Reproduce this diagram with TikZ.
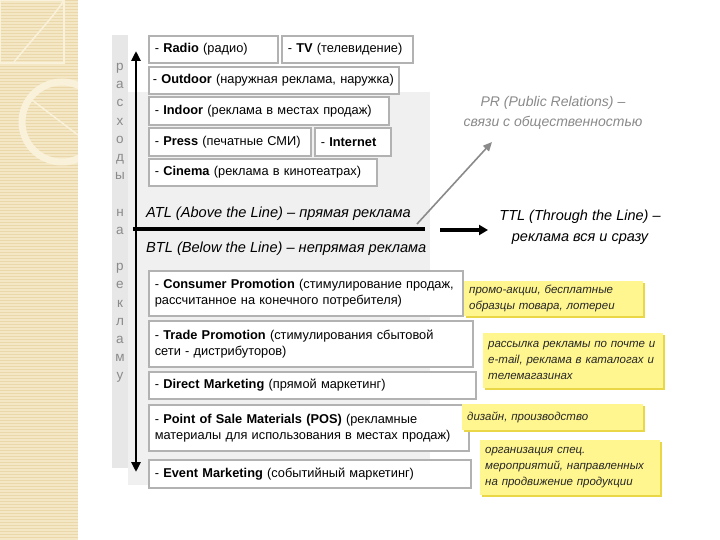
\documentclass[tikz,border=0pt]{standalone}
\usepackage{fontspec}
\setmainfont{Liberation Sans}
\usetikzlibrary{arrows.meta}
\definecolor{stripbg}{HTML}{F4E7C6}
\definecolor{stripln}{HTML}{EAD8AA}
\definecolor{decor}{HTML}{FAF1DA}
\definecolor{panel}{HTML}{F0F0F0}
\definecolor{colstrip}{HTML}{E7E7E7}
\definecolor{boxline}{HTML}{B2B2B2}
\definecolor{yel}{HTML}{FFF68F}
\definecolor{yelshadow}{HTML}{E9D748}
\definecolor{prgray}{HTML}{8A8A8A}
\tikzset{
  wbox/.style={draw=boxline, line width=1.6pt, fill=white, anchor=north west,
    inner xsep=6pt, inner ysep=0pt, align=left,
    font=\fontsize{12.8}{16}\selectfont},
  ybox/.style={fill=yel, anchor=north west, inner xsep=5pt, inner ysep=0pt,
    align=left, text=black!85, font=\fontsize{11.5}{16}\selectfont\itshape},
  thickarrow/.style={line width=3pt, -{Triangle[length=9pt,width=10pt]}},
}
\begin{document}
\begin{tikzpicture}[x=1pt,y=-1pt]
\useasboundingbox (0,0) rectangle (720,540);
\fill[white] (0,0) rectangle (720,540);
% decorative left strip
\fill[stripbg] (0,0) rectangle (78,540);
\foreach \i in {0,3,...,540} {\draw[stripln, line width=0.8pt] (0,\i) -- (78,\i);}
\begin{scope}
\clip (0,0) rectangle (78,540);
\draw[decor, line width=2pt] (0,0) rectangle (64,63);
\draw[decor, line width=1.5pt] (14,62) .. controls (40,30) and (55,15) .. (64,0);
\draw[decor, line width=7pt] (62,122) circle (40);
\draw[decor, line width=1.5pt] (32,100) -- (78,135);
\end{scope}
% gray panels
\fill[panel] (128,92) rectangle (430,485);
\fill[colstrip] (112,35) rectangle (128,468);
% ATL boxes
\node[wbox, minimum width=129pt, minimum height=27pt, text width=117pt] (radio) at (148,35) {- \textbf{Radio} (радио)};
\node[wbox, minimum width=131pt, minimum height=27pt, text width=119pt] (tv) at (281,35) {- \textbf{TV} (телевидение)};
\node[wbox, inner xsep=4pt, minimum width=250pt, minimum height=27pt, text width=242pt] (outdoor) at (148,66) {\mbox{- \textbf{Outdoor} (наружная реклама, наружка)}};
\node[wbox, minimum width=240pt, minimum height=28pt, text width=228pt] (indoor) at (148,96) {- \textbf{Indoor} (реклама в местах продаж)};
\node[wbox, minimum width=162pt, minimum height=28pt, text width=150pt] (press) at (148,127) {- \textbf{Press} (печатные СМИ)};
\node[wbox, minimum width=76pt, minimum height=28pt, text width=64pt] (internet) at (314,127) {- \textbf{Internet}};
\node[wbox, minimum width=228pt, minimum height=27pt, text width=216pt] (cinema) at (148,158) {- \textbf{Cinema} (реклама в кинотеатрах)};
% BTL boxes
\node[wbox, minimum width=314pt, minimum height=45pt, text width=302pt] (consumer) at (148,270) {- \textbf{Consumer Promotion} (стимулирование продаж,\\рассчитанное на конечного потребителя)};
\node[wbox, minimum width=324pt, minimum height=46pt, text width=312pt] (trade) at (148,320) {- \textbf{Trade Promotion} (стимулирования сбытовой\\сети - дистрибуторов)};
\node[wbox, minimum width=327pt, minimum height=27pt, text width=315pt] (direct) at (148,371) {- \textbf{Direct Marketing} (прямой маркетинг)};
\node[wbox, minimum width=320pt, minimum height=46pt, text width=308pt] (pos) at (148,404) {- \textbf{Point of Sale Materials (POS)} (рекламные\\материалы для использования в местах продаж)};
\node[wbox, minimum width=322pt, minimum height=28pt, text width=310pt] (event) at (148,459) {- \textbf{Event Marketing} (событийный маркетинг)};
% yellow notes
\foreach \x/\y/\w/\h in {464/281/179/35, 483/333/180/55, 462/404/181/26, 480/440/180/55}
  {\fill[yelshadow] (\x+2,\y+2) rectangle (\x+\w+2,\y+\h+2);}
\node[ybox, minimum width=179pt, minimum height=35pt, text width=169pt] (n1) at (464,281) {промо-акции, бесплатные\\образцы товара, лотереи};
\node[ybox, minimum width=180pt, minimum height=55pt, text width=170pt] (n2) at (483,333) {рассылка рекламы по почте и\\e-mail, реклама в каталогах и\\телемагазинах};
\node[ybox, minimum width=181pt, minimum height=26pt, text width=171pt] (n3) at (462,404) {дизайн, производство};
\node[ybox, minimum width=180pt, minimum height=55pt, text width=170pt] (n4) at (480,440) {организация спец.\\мероприятий, направленных\\на продвижение продукции};
% vertical label
\node[text=prgray, align=center, font=\fontsize{13.5}{18.2}\selectfont, inner sep=0pt] (vlabel) at (120,223)
  {р\\а\\с\\х\\о\\д\\ы\\\strut\\н\\а\\\strut\\р\\е\\к\\л\\а\\м\\у};
% vertical axis arrow
\coordinate (vtop) at (136,51);
\coordinate (vbot) at (136,472);
\draw[line width=2.6pt, {Triangle[length=10pt,width=9pt]}-{Triangle[length=10pt,width=9pt]}] (vbot) -- (vtop);
% ATL / BTL line and labels
\coordinate (lineL) at (133,229);
\coordinate (lineR) at (425,229);
\draw[line width=3.2pt] (lineL) -- (lineR);
\node[anchor=base west, inner sep=0pt, font=\fontsize{14.6}{16}\selectfont\itshape] (atl) at (146,218) {ATL (Above the Line) – прямая реклама};
\node[anchor=base west, inner sep=0pt, font=\fontsize{14.6}{16}\selectfont\itshape] (btl) at (146,252) {BTL (Below the Line) – непрямая реклама};
% PR
\node[text=prgray, align=center, font=\fontsize{14}{20}\selectfont\itshape] (pr) at (553,113) {PR (Public Relations) –\\связи с общественностью};
\coordinate (prstart) at (417,224);
\coordinate (prend) at (492,142);
\draw[prgray, line width=1.6pt, -{Triangle[length=9pt,width=8pt]}] (prstart) -- (prend);
% TTL
\node[align=center, font=\fontsize{14.5}{21}\selectfont\itshape] (ttl) at (580,227) {TTL (Through the Line) –\\реклама вся и сразу};
\coordinate (ttlstart) at (440,230);
\coordinate (ttlend) at (488,230);
\draw[thickarrow] (ttlstart) -- (ttlend);
\end{tikzpicture}
\end{document}
